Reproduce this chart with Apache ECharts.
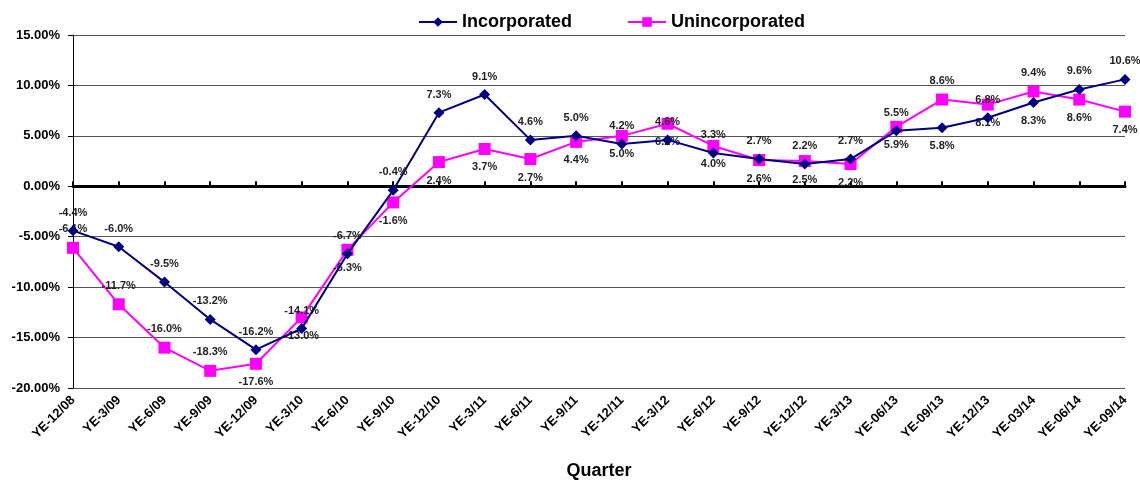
<!DOCTYPE html>
<html>
<head>
<meta charset="utf-8">
<script src="https://cdn.jsdelivr.net/npm/echarts@6/dist/echarts.min.js"></script>
<style>
  html, body { margin: 0; padding: 0; background: #fff; }
  #chart { width: 1140px; height: 480px; }
</style>
</head>
<body>
<div id="chart"></div>
<script>
// quarters on the x axis
var quarters = ['YE-12/08', 'YE-3/09', 'YE-6/09', 'YE-9/09', 'YE-12/09', 'YE-3/10', 'YE-6/10', 'YE-9/10',
    'YE-12/10', 'YE-3/11', 'YE-6/11', 'YE-9/11', 'YE-12/11', 'YE-3/12', 'YE-6/12', 'YE-9/12',
    'YE-12/12', 'YE-3/13', 'YE-06/13', 'YE-09/13', 'YE-12/13', 'YE-03/14', 'YE-06/14', 'YE-09/14'];

// percent change, per quarter
var incorporated = [-4.4, -6.0, -9.5, -13.2, -16.2, -14.1, -6.7, -0.4, 7.3, 9.1, 4.6, 5.0,
    4.2, 4.6, 3.3, 2.7, 2.2, 2.7, 5.5, 5.8, 6.8, 8.3, 9.6, 10.6];
var unincorporated = [-6.1, -11.7, -16.0, -18.3, -17.6, -13.0, -6.3, -1.6, 2.4, 3.7, 2.7, 4.4,
    5.0, 6.2, 4.0, 2.6, 2.5, 2.2, 5.9, 8.6, 8.1, 9.4, 8.6, 7.4];

var yTicks = [-20, -15, -10, -5, 0, 5, 10, 15];

// which points have their label under the marker
var incBelow = [19, 21];
var unincAbove = [0, 1, 2, 3, 19, 21];

var labelFont = { fontFamily: 'Liberation Sans', fontWeight: 'bold', fontSize: 11, color: '#222' };

function pct(p) { return p.value.toFixed(1) + '%'; }

var chart = echarts.init(document.getElementById('chart'));
var option = {
    animation: false,
    textStyle: { fontFamily: 'Liberation Sans' },
    legend: {
        top: 8,
        left: 413,
        itemWidth: 38,
        itemHeight: 12,
        itemGap: 55,
        textStyle: { fontFamily: 'Liberation Sans', fontWeight: 'bold', fontSize: 18, color: '#000' },
        data: ['Incorporated', 'Unincorporated']
    },
    grid: { left: 73, right: 15, top: 35, bottom: 92, outerBoundsMode: 'none', containLabel: false },
    xAxis: [
        {
            type: 'category',
            data: quarters,
            boundaryGap: false,
            position: 'bottom',
            axisLine: { show: false, onZero: false },
            axisTick: { show: false },
            axisLabel: {
                rotate: 45,
                margin: 10,
                interval: 0,
                fontFamily: 'Liberation Sans',
                fontWeight: 'bold',
                fontSize: 13,
                color: '#000'
            },
            name: 'Quarter',
            nameLocation: 'middle',
            nameGap: 74,
            nameTextStyle: { fontFamily: 'Liberation Sans', fontWeight: 'bold', fontSize: 18, color: '#000' }
        },
        {
            type: 'category',
            data: quarters,
            boundaryGap: false,
            axisLine: { show: true, onZero: true, lineStyle: { color: '#000', width: 3 } },
            axisTick: { show: true, interval: 0, length: 5, lineStyle: { color: '#000', width: 2 } },
            axisLabel: { show: false }
        }
    ],
    yAxis: {
        type: 'value',
        min: yTicks[0],
        max: yTicks[yTicks.length - 1],
        interval: 5,
        axisLine: { show: true, lineStyle: { color: '#000', width: 1 } },
        axisTick: { show: true, length: 5, lineStyle: { color: '#000' } },
        axisLabel: {
            formatter: function (v) { return v.toFixed(2) + '%'; },
            fontFamily: 'Liberation Sans',
            fontWeight: 'bold',
            fontSize: 13,
            color: '#000',
            margin: 13
        },
        splitLine: { show: true, lineStyle: { color: '#555', width: 1 } }
    },
    series: [
        {
            name: 'Incorporated',
            type: 'line',
            xAxisIndex: 0,
            data: incorporated.map(function (v, i) {
                return { value: v, label: { position: incBelow.indexOf(i) >= 0 ? 'bottom' : 'top' } };
            }),
            color: '#000080',
            symbol: 'diamond',
            symbolSize: 11,
            lineStyle: { width: 2 },
            label: Object.assign({ show: true, distance: 7, formatter: pct }, labelFont),
            z: 3
        },
        {
            name: 'Unincorporated',
            type: 'line',
            xAxisIndex: 0,
            data: unincorporated.map(function (v, i) {
                return { value: v, label: { position: unincAbove.indexOf(i) >= 0 ? 'top' : 'bottom' } };
            }),
            color: '#FF00FF',
            symbol: 'rect',
            symbolSize: 12,
            lineStyle: { width: 2 },
            label: Object.assign({ show: true, distance: 7, formatter: pct }, labelFont),
            z: 2
        }
    ]
};
chart.setOption(option);
</script>
</body>
</html>
